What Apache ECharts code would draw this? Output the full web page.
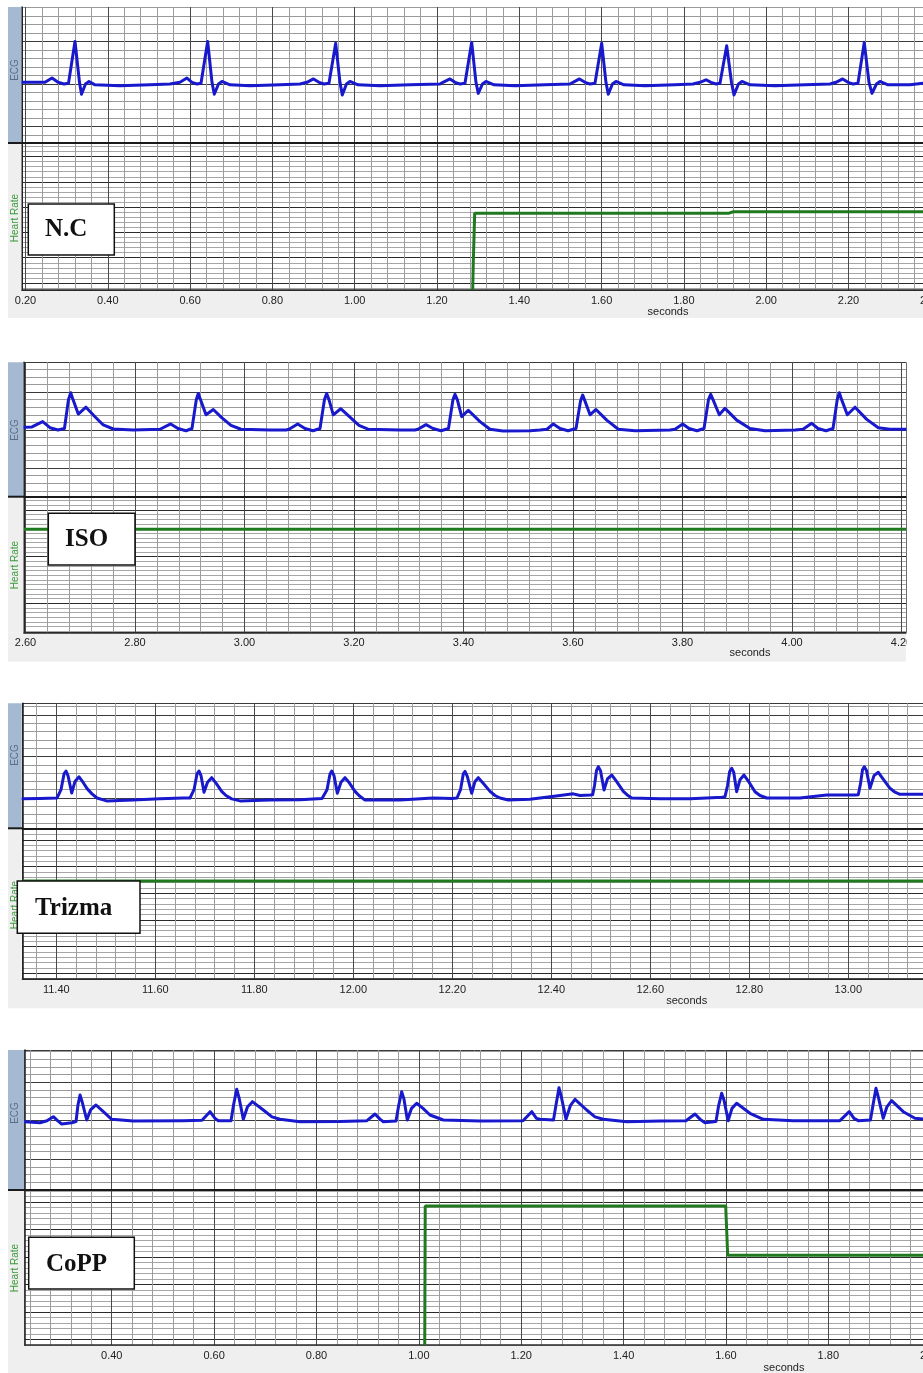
<!DOCTYPE html>
<html>
<head>
<meta charset="utf-8">
<script src="https://cdn.jsdelivr.net/npm/echarts@6.0.0/dist/echarts.min.js"></script>
<style>
html,body{margin:0;padding:0;background:#fff;}
#c{width:923px;height:1373px;}
</style>
</head>
<body>
<div id="c"></div>
<script>
// ---------- data ----------
const groupLabels = ['N.C', 'ISO', 'Trizma', 'CoPP'];
const axisTitle = 'seconds';
const channelLabels = ['ECG', 'Heart Rate'];
const timeRanges = [[0.1915, 2.40], [2.5973, 4.2082], [11.3313, 13.16], [0.2300, 2.00]];
const ecgRanges = [[-0.694, 0.906], [-0.878, 0.891], [-0.365, 1.141], [-0.9, 0.918]];
const hrRanges = [[36.2, 326.7], [37.0, 328.2], [39.5, 321.7], [39.6, 321.4]];
const hrMajor = [50, 100, 50, 50];
const hrMinorSplit = [5, 10, 5, 5];

const ecgNC = [
[0.1915,0.02],[0.2352,0.02],[0.2474,0.02],[0.2644,0.07],[0.2790,0.02],[0.2935,0.00],[0.3045,0.01],[0.3203,0.50],[0.3312,0.02],[0.3361,-0.12],[0.3458,0.00],[0.3543,0.03],[0.3689,-0.01],[0.4296,-0.02],[0.5025,-0.01],[0.5511,0.00],
[0.5754,0.02],[0.5924,0.07],[0.6046,0.02],[0.6167,0.00],[0.6265,0.01],[0.6427,0.50],[0.6532,0.02],[0.6588,-0.12],[0.6690,0.00],[0.6775,0.03],[0.6969,-0.01],[0.7455,-0.02],[0.8184,-0.01],[0.8670,0.00],
[0.8840,0.02],[0.8998,0.06],[0.9132,0.02],[0.9254,0.00],[0.9375,0.01],[0.9538,0.48],[0.9642,0.02],[0.9698,-0.13],[0.9800,0.00],[0.9885,0.03],[1.0080,-0.01],[1.0614,-0.02],[1.1343,-0.01],[1.2072,0.00],
[1.2145,0.02],[1.2316,0.06],[1.2437,0.02],[1.2558,0.00],[1.2680,0.01],[1.2843,0.49],[1.2947,0.02],[1.3003,-0.11],[1.3105,0.00],[1.3190,0.03],[1.3385,-0.01],[1.3895,-0.02],[1.4624,-0.01],[1.5232,0.00],
[1.5305,0.02],[1.5462,0.06],[1.5596,0.02],[1.5718,0.00],[1.5839,0.01],[1.6002,0.48],[1.6106,0.02],[1.6162,-0.12],[1.6264,0.00],[1.6349,0.03],[1.6544,-0.01],[1.7054,-0.02],[1.7783,-0.01],[1.8221,0.00],
[1.8391,0.02],[1.8537,0.05],[1.8658,0.02],[1.8780,0.00],[1.8877,0.01],[1.9040,0.45],[1.9156,0.02],[1.9217,-0.13],[1.9326,0.00],[1.9411,0.03],[1.9606,-0.01],[2.0213,-0.02],[2.0942,-0.01],[2.1550,0.00],
[2.1696,0.02],[2.1858,0.06],[2.1987,0.02],[2.2109,0.00],[2.2230,0.01],[2.2383,0.49],[2.2498,0.02],[2.2571,-0.11],[2.2680,0.00],[2.2765,0.03],[2.2959,-0.01],[2.3494,-0.01],[2.3810,0.01]
];

const ecgISO = [
[2.5973,0.035],[2.6119,0.04],[2.6314,0.11],[2.6447,0.03],[2.6594,0.00],[2.6712,0.02],[2.6785,0.40],[2.6826,0.49],[2.6868,0.40],[2.6964,0.21],[2.7105,0.30],[2.7269,0.175],[2.7421,0.066],[2.7604,0.013],[2.7963,0.00],
[2.8457,0.01],[2.8652,0.08],[2.8785,0.02],[2.8932,-0.01],[2.9041,0.02],[2.9120,0.40],[2.9156,0.48],[2.9196,0.40],[2.9297,0.20],[2.9430,0.27],[2.9589,0.16],[2.9753,0.06],[2.9936,0.01],[3.0466,0.00],[3.0758,0.00],
[3.0813,0.01],[3.0972,0.08],[3.1105,0.02],[3.1251,-0.01],[3.1379,0.02],[3.1461,0.40],[3.1501,0.48],[3.1543,0.40],[3.1622,0.20],[3.1757,0.28],[3.1927,0.17],[3.2091,0.06],[3.2256,0.01],[3.2840,0.00],[3.3114,0.00],
[3.3169,0.01],[3.3315,0.07],[3.3443,0.02],[3.3589,-0.01],[3.3726,0.02],[3.3808,0.40],[3.3845,0.47],[3.3887,0.40],[3.3967,0.175],[3.4088,0.26],[3.4301,0.11],[3.4484,0.01],[3.4722,-0.013],[3.5215,-0.01],[3.5397,0.00],
[3.5525,0.01],[3.5640,0.08],[3.5763,0.02],[3.5909,-0.01],[3.6055,0.02],[3.6137,0.38],[3.6177,0.46],[3.6219,0.38],[3.6311,0.20],[3.6420,0.27],[3.6616,0.13],[3.6828,0.01],[3.7133,-0.01],[3.7772,0.00],
[3.7863,0.01],[3.8004,0.08],[3.8119,0.02],[3.8265,-0.01],[3.8393,0.02],[3.8475,0.40],[3.8515,0.47],[3.8557,0.40],[3.8672,0.20],[3.8776,0.285],[3.8990,0.13],[3.9233,0.02],[3.9507,-0.01],[4.0055,0.00],
[4.0201,0.01],[4.0360,0.088],[4.0475,0.02],[4.0621,-0.01],[4.0749,0.02],[4.0826,0.40],[4.0864,0.49],[4.0906,0.40],[4.1010,0.20],[4.1151,0.30],[4.1365,0.14],[4.1576,0.03],[4.1790,0.01],[4.2082,0.01]
];

const ecgTrizma = [
[11.3313,-0.01],[11.3671,-0.005],[11.4014,0.00],[11.4095,0.10],[11.4156,0.29],[11.4196,0.325],[11.4236,0.27],[11.4311,0.06],[11.4378,0.20],[11.4459,0.255],[11.4539,0.19],[11.4626,0.11],[11.4721,0.05],[11.4822,0.00],[11.5018,-0.035],[11.5550,-0.025],[11.6095,-0.01],[11.6560,0.00],
[11.6701,0.00],[11.6782,0.10],[11.6842,0.29],[11.6883,0.325],[11.6923,0.27],[11.6984,0.07],[11.7055,0.19],[11.7139,0.245],[11.7226,0.18],[11.7341,0.08],[11.7428,0.03],[11.7543,-0.01],[11.7711,-0.035],[11.8317,-0.025],[11.8923,-0.02],[11.9368,-0.005],
[11.9398,0.00],[11.9469,0.10],[11.9529,0.29],[11.9564,0.325],[11.9610,0.27],[11.9677,0.057],[11.9751,0.19],[11.9832,0.245],[11.9923,0.18],[12.0034,0.08],[12.0115,0.03],[12.0236,-0.025],[12.0943,-0.025],[12.1610,0.00],[12.1994,-0.005],
[12.2095,0.00],[12.2166,0.10],[12.2222,0.29],[12.2257,0.32],[12.2303,0.26],[12.2392,0.057],[12.2459,0.20],[12.2525,0.245],[12.2620,0.18],[12.2762,0.08],[12.2863,0.03],[12.2964,0.00],[12.3131,-0.025],[12.3570,-0.015],[12.4176,0.03],[12.4444,0.05],[12.4580,0.03],[12.4782,0.035],
[12.4836,0.04],[12.4873,0.15],[12.4913,0.33],[12.4950,0.377],[12.4994,0.33],[12.5065,0.096],[12.5135,0.23],[12.5220,0.277],[12.5307,0.21],[12.5455,0.08],[12.5550,0.03],[12.5624,0.00],[12.6196,-0.01],[12.6802,-0.01],[12.7139,0.00],[12.7449,0.01],
[12.7509,0.015],[12.7560,0.15],[12.7604,0.32],[12.7644,0.358],[12.7685,0.31],[12.7745,0.076],[12.7812,0.22],[12.7893,0.277],[12.7984,0.20],[12.8115,0.076],[12.8216,0.03],[12.8351,0.00],[12.9024,0.00],[12.9564,0.036],[13.0135,0.036],
[13.0202,0.04],[13.0246,0.17],[13.0287,0.34],[13.0323,0.377],[13.0368,0.33],[13.0438,0.117],[13.0519,0.27],[13.0606,0.31],[13.0701,0.23],[13.0842,0.117],[13.0944,0.07],[13.1044,0.045],[13.1509,0.045]
];

const ecgCoPP = [
[0.2300,-0.013],[0.2599,-0.026],[0.2736,0.00],[0.2859,0.052],[0.2941,0.00],[0.3023,-0.043],[0.3219,-0.026],[0.3303,-0.01],[0.3340,0.20],[0.3381,0.334],[0.3420,0.25],[0.3512,0.009],[0.3586,0.14],[0.3693,0.204],[0.3836,0.117],[0.4000,0.018],[0.4422,-0.004],[0.5399,0.00],
[0.5764,0.005],[0.5920,0.117],[0.6018,0.03],[0.6082,0.00],[0.6331,0.00],[0.6379,0.20],[0.6442,0.408],[0.6487,0.30],[0.6571,0.018],[0.6653,0.18],[0.6747,0.247],[0.6962,0.139],[0.7131,0.05],[0.7288,0.018],[0.7678,-0.013],[0.8460,-0.01],[0.8987,0.00],
[0.9144,0.087],[0.9241,0.02],[0.9306,-0.013],[0.9554,-0.005],[0.9607,0.20],[0.9665,0.377],[0.9710,0.28],[0.9775,0.009],[0.9857,0.16],[0.9958,0.226],[1.0081,0.16],[1.0218,0.074],[1.0478,0.009],[1.1195,-0.005],[1.2035,0.00],
[1.2205,0.117],[1.2298,0.03],[1.2367,0.018],[1.2631,0.01],[1.2679,0.20],[1.2738,0.429],[1.2787,0.30],[1.2875,0.018],[1.2963,0.20],[1.3051,0.278],[1.3279,0.139],[1.3441,0.05],[1.3603,0.018],[1.4061,-0.013],[1.4711,-0.005],[1.5219,0.00],
[1.5395,0.087],[1.5492,0.02],[1.5590,-0.026],[1.5805,-0.01],[1.5858,0.20],[1.5916,0.356],[1.5961,0.27],[1.6045,0.00],[1.6118,0.16],[1.6209,0.226],[1.6469,0.096],[1.6729,0.018],[1.7315,0.00],[1.8227,0.00],
[1.8409,0.117],[1.8501,0.03],[1.8585,0.00],[1.8823,0.01],[1.8872,0.20],[1.8931,0.42],[1.8979,0.30],[1.9073,0.031],[1.9145,0.18],[1.9237,0.26],[1.9464,0.117],[1.9692,0.031],[1.9849,0.022]
];

const hrNC = [[1.2868,36.2],[1.2882,91.5],[1.2916,187.7],[1.9078,187.7],[1.9200,190.9],[2.40,190.9]];
const hrISO = [[2.5973,258.7],[4.2082,258.7]];
const hrTrizma = [[11.3313,223],[13.16,223]];
const hrCoPP = [[1.0115,39.6],[1.0125,292.4],[1.5995,292.4],[1.6034,202.7],[2.00,202.7]];

// ---------- layout (pixels) ----------
const layout = [
  {left:22,   width:908.8, top:7,     split:143,    bottom:290,    stripBottom:318,    stripRight:923, box:[28.3,204,86,51],      text:[45,230],    sec:[668,312],    ecgY:70,   hrY:218},
  {left:24,   width:882,   top:362.3, split:496.7,  bottom:632.7,  stripBottom:661.7,  stripRight:906, box:[48.3,513.3,86.7,51.7], text:[65,539.5],  sec:[750,652.7],  ecgY:430,  hrY:565},
  {left:22.3, width:905.2, top:703.3, split:828.3,  bottom:979,    stripBottom:1008.3, stripRight:923, box:[17.3,881,122.7,52.3],  text:[35,908.5],  sec:[686.7,1001], ecgY:755,  hrY:905},
  {left:24.7, width:906,   top:1050,  split:1190,   bottom:1345,   stripBottom:1373,   stripRight:923, box:[28.7,1237.3,105.6,51.7], text:[46,1264.5], sec:[784,1367.5], ecgY:1113, hrY:1268}
];

const ecgData = [ecgNC, ecgISO, ecgTrizma, ecgCoPP];
const hrData = [hrNC, hrISO, hrTrizma, hrCoPP];

const fmt = function (v) {
  return Math.abs(v * 5 - Math.round(v * 5)) < 1e-6 ? v.toFixed(2) : '';
};

const grids = [], xAxes = [], yAxes = [], series = [], graphics = [];

layout.forEach(function (p, i) {
  const gE = grids.length;
  grids.push({left: p.left, top: p.top, width: p.width, height: p.split - p.top, outerBoundsMode: 'none', containLabel: false});
  grids.push({left: p.left, top: p.split, width: p.width, height: p.bottom - p.split, outerBoundsMode: 'none', containLabel: false});

  const baseX = {
    type: 'value', position: 'bottom',
    min: timeRanges[i][0], max: timeRanges[i][1],
    minInterval: 0.2, maxInterval: 0.2,
    minorTick: {show: false, splitNumber: 5},
    splitLine: {show: true, lineStyle: {color: '#4a4a4a', width: 1}},
    minorSplitLine: {show: true, lineStyle: {color: '#9c9c9c', width: 1}},
    axisTick: {show: false}
  };
  xAxes.push(Object.assign({}, baseX, {
    gridIndex: gE,
    axisLabel: {show: false},
    axisLine: {show: true, onZero: false, lineStyle: {color: '#1a1a1a', width: 2}}
  }));
  xAxes.push(Object.assign({}, baseX, {
    gridIndex: gE + 1,
    axisLine: {show: true, onZero: false, lineStyle: {color: '#2a2a2a', width: 1.5}},
    axisLabel: {show: true, margin: 5, fontSize: 11, color: '#222', fontFamily: 'Liberation Sans', formatter: fmt,
      showMinLabel: true, showMaxLabel: true, hideOverlap: false}
  }));

  yAxes.push({
    type: 'value', gridIndex: gE,
    min: ecgRanges[i][0], max: ecgRanges[i][1],
    minInterval: 0.5, maxInterval: 0.5,
    minorTick: {show: false, splitNumber: 5},
    splitLine: {show: true, lineStyle: {color: '#3a3a3a', width: 1}},
    minorSplitLine: {show: true, lineStyle: {color: '#9a9a9a', width: 1}},
    axisLabel: {show: false}, axisTick: {show: false},
    axisLine: {show: true, onZero: false, lineStyle: {color: '#1a1a1a', width: 1.5}}
  });
  yAxes.push({
    type: 'value', gridIndex: gE + 1,
    min: hrRanges[i][0], max: hrRanges[i][1],
    minInterval: hrMajor[i], maxInterval: hrMajor[i],
    minorTick: {show: false, splitNumber: hrMinorSplit[i]},
    splitLine: {show: true, lineStyle: {color: '#2a2a2a', width: 1}},
    minorSplitLine: {show: true, lineStyle: {color: '#a6a6a6', width: 1}},
    axisLabel: {show: false}, axisTick: {show: false},
    axisLine: {show: true, onZero: false, lineStyle: {color: '#1a1a1a', width: 1.5}}
  });

  series.push({
    type: 'line', name: channelLabels[0], xAxisIndex: gE, yAxisIndex: gE,
    data: ecgData[i], symbol: 'none', showSymbol: false,
    lineStyle: {color: '#1818cc', width: 3, join: 'round', cap: 'round'},
    z: 5, silent: true
  });
  series.push({
    type: 'line', name: channelLabels[1], xAxisIndex: gE + 1, yAxisIndex: gE + 1,
    data: hrData[i], symbol: 'none', showSymbol: false,
    lineStyle: {color: '#1f7a1f', width: 3},
    z: 5, silent: true
  });

  // sidebar
  graphics.push({type: 'rect', shape: {x: 8, y: p.top, width: p.left - 8.6, height: p.split - p.top},
    style: {fill: '#a5b9d3'}, z: 100});
  graphics.push({type: 'rect', shape: {x: 8, y: p.split, width: p.left - 8.6, height: p.bottom - p.split},
    style: {fill: '#efefef'}, z: 100});
  graphics.push({type: 'line', shape: {x1: 8, y1: p.split, x2: p.left, y2: p.split},
    style: {stroke: '#1a1a1a', lineWidth: 2}, z: 102});
  graphics.push({type: 'text', x: 15.5, y: p.ecgY, rotation: Math.PI / 2,
    style: {text: channelLabels[0], fill: '#5e6e82', font: '10px "Liberation Sans"', align: 'center', verticalAlign: 'middle'}, z: 103});
  graphics.push({type: 'text', x: 15, y: p.hrY, rotation: Math.PI / 2,
    style: {text: channelLabels[1], fill: '#3b9a3b', font: '10px "Liberation Sans"', align: 'center', verticalAlign: 'middle'}, z: 103});
  // label strip
  graphics.push({type: 'rect', shape: {x: 8, y: p.bottom, width: p.stripRight - 8, height: p.stripBottom - p.bottom},
    style: {fill: '#efefef'}, z: -10});
  graphics.push({type: 'text', x: p.sec[0], y: p.sec[1],
    style: {text: axisTitle, fill: '#222', font: '11px "Liberation Sans"', align: 'center', verticalAlign: 'middle'}, z: 5});
  // group label box
  graphics.push({type: 'rect', shape: {x: p.box[0], y: p.box[1], width: p.box[2], height: p.box[3]},
    style: {fill: '#ffffff', stroke: '#111', lineWidth: 1.5}, z: 110});
  graphics.push({type: 'text', x: p.text[0], y: p.text[1],
    style: {text: groupLabels[i], fill: '#111', font: 'bold 25px "Liberation Serif"', align: 'left', verticalAlign: 'middle'}, z: 111});
});

// panel 2 is cropped on the right in the original
graphics.push({type: 'rect', shape: {x: 906.8, y: 352, width: 20, height: 316}, style: {fill: '#ffffff'}, z: 120});

const chart = echarts.init(document.getElementById('c'), null, {renderer: 'canvas'});
chart.setOption({
  backgroundColor: '#ffffff',
  animation: false,
  textStyle: {fontFamily: 'Liberation Sans'},
  grid: grids,
  xAxis: xAxes,
  yAxis: yAxes,
  series: series,
  graphic: {elements: graphics}
});
</script>
</body>
</html>
